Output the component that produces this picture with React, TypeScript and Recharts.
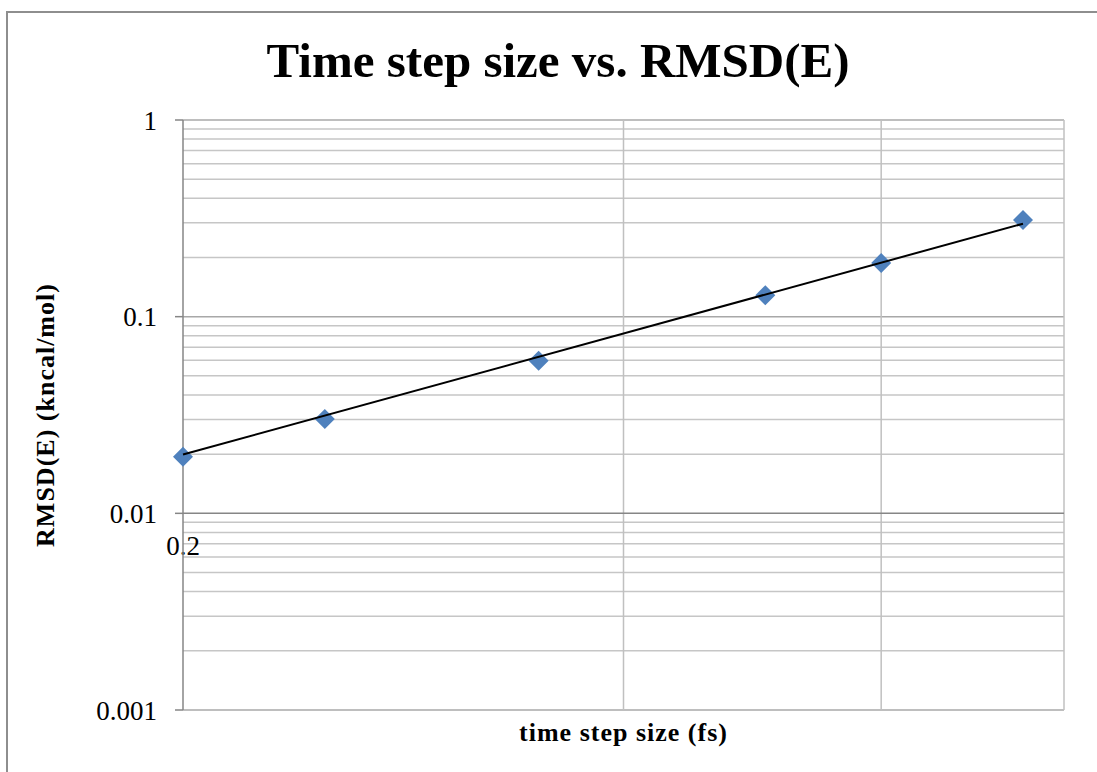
import React from 'react';
import { ScatterChart, Scatter, XAxis, YAxis, ReferenceLine } from 'recharts';

// measured points: time step (fs) vs RMSD(E)
const timeStep = [0.2, 0.25, 0.35, 0.5, 0.6, 0.75];
const rmsdE = [0.0194, 0.0302, 0.0597, 0.1285, 0.1875, 0.31];

// power trendline end points
const trendX = [0.2, 0.75];
const trendY = [0.0199, 0.297];

const yTicks = [0.001, 0.01, 0.1, 1];
const yMinorGrid = [
  0.002, 0.003, 0.004, 0.005, 0.006, 0.007, 0.008, 0.009,
  0.02, 0.03, 0.04, 0.05, 0.06, 0.07, 0.08, 0.09,
  0.2, 0.3, 0.4, 0.5, 0.6, 0.7, 0.8, 0.9,
];
const xGrid = [0.4, 0.6, 0.8];
const xDomain = [0.2, 0.8];
const xTickLabels = ['0.2'];

const points = timeStep.map((x, i) => ({ x, y: rmsdE[i] }));
const trend = trendX.map((x, i) => ({ x, y: trendY[i] }));

const FONT = '"Liberation Serif", serif';

const Diamond = (props: any) => {
  const { cx, cy } = props;
  const r = 10;
  return (
    <polygon
      points={`${cx},${cy - r} ${cx + r},${cy} ${cx},${cy + r} ${cx - r},${cy}`}
      fill="#4f81bd"
    />
  );
};

const NoShape = () => <g />;

const YTitle = (props: any) => {
  const { viewBox } = props;
  const x = 45;
  const y = viewBox.y + viewBox.height / 2;
  return (
    <text
      x={x}
      y={y}
      transform={`rotate(-90 ${x} ${y})`}
      textAnchor="middle"
      dominantBaseline="central"
      fontFamily={FONT}
      fontWeight="bold"
      fontSize={26}
      letterSpacing={1}
      fill="#000"
    >
      RMSD(E) (kncal/mol)
    </text>
  );
};

const XTitle = (props: any) => {
  const { viewBox } = props;
  return (
    <text
      x={viewBox.x + viewBox.width / 2}
      y={viewBox.y + 31}
      textAnchor="middle"
      fontFamily={FONT}
      fontWeight="bold"
      fontSize={26}
      letterSpacing={1}
      fill="#000"
    >
      time step size (fs)
    </text>
  );
};

const CrossLabel = (props: any) => {
  const { viewBox } = props;
  return (
    <text
      x={viewBox.x}
      y={viewBox.y + 42}
      textAnchor="middle"
      fontFamily={FONT}
      fontSize={27}
      fill="#000"
    >
      {xTickLabels[0]}
    </text>
  );
};

export default function App() {
  return (
    <div style={{ position: 'absolute', left: 0, top: 0, width: 1097, height: 772, overflow: 'hidden', background: '#fff' }}>
      <div
        style={{
          position: 'absolute',
          left: 6,
          top: 11,
          width: 1200,
          height: 900,
          borderLeft: '2px solid #8e8e8e',
          borderTop: '2px solid #8e8e8e',
        }}
      />
      <div
        style={{
          position: 'absolute',
          left: 0,
          top: 36,
          width: 1116,
          textAlign: 'center',
          fontFamily: FONT,
          fontWeight: 'bold',
          fontSize: 49,
          lineHeight: '49px',
          color: '#000',
        }}
      >
        Time step size vs. RMSD(E)
      </div>
      <div style={{ position: 'absolute', left: 0, top: 0 }}>
        <ScatterChart width={1097} height={772} margin={{ top: 120, right: 33, left: 0, bottom: 0 }}>
          <XAxis
            type="number"
            dataKey="x"
            scale="log"
            domain={xDomain}
            height={62}
            tick={false}
            tickLine={false}
            axisLine={false}
            label={<XTitle />}
          />
          <YAxis
            type="number"
            dataKey="y"
            scale="log"
            domain={[0.001, 1]}
            ticks={yTicks}
            width={183}
            tickSize={8}
            tickMargin={18}
            axisLine={{ stroke: '#868686', strokeWidth: 1.5 }}
            tickLine={{ stroke: '#868686', strokeWidth: 1.5 }}
            tick={{ fill: '#000', fontFamily: FONT, fontSize: 27 }}
            tickFormatter={(v: number) => String(v)}
            label={<YTitle />}
          />
          {yMinorGrid.map((v) => (
            <ReferenceLine key={'ym' + v} y={v} stroke="#c6c6c6" strokeWidth={1.5} />
          ))}
          {yTicks.filter((v) => v !== 0.01).map((v) => (
            <ReferenceLine key={'yM' + v} y={v} stroke="#a8a8a8" strokeWidth={1.5} />
          ))}
          {xGrid.map((v) => (
            <ReferenceLine key={'xg' + v} x={v} stroke="#c0c0c0" strokeWidth={1.5} />
          ))}
          <ReferenceLine y={0.01} stroke="#868686" strokeWidth={1.5} label={<CrossLabel />} />
          <Scatter data={points} shape={<Diamond />} isAnimationActive={false} />
          <Scatter
            data={trend}
            shape={<NoShape />}
            line={{ stroke: '#000', strokeWidth: 2 }}
            isAnimationActive={false}
          />
        </ScatterChart>
      </div>
    </div>
  );
}
